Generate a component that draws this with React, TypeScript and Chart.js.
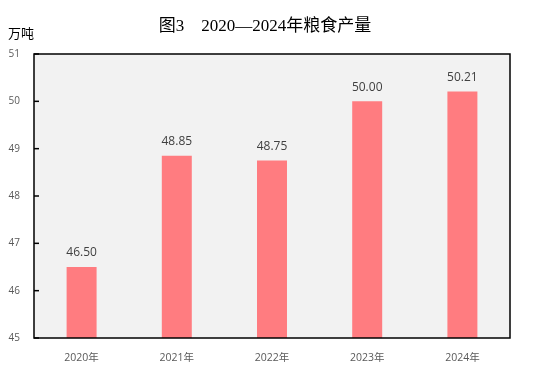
import React, { useEffect, useRef } from "react";
import { Chart, registerables } from "chart.js";

Chart.register(...registerables);

const TITLE = "图3　2020—2024年粮食产量";
const UNIT = "万吨";
const categories = ["2020年", "2021年", "2022年", "2023年", "2024年"];
const values = [46.5, 48.85, 48.75, 50.0, 50.21];
const yMin = 45;
const yMax = 51;

const decor = {
  id: "decor",
  beforeDraw(chart: any) {
    const { ctx, chartArea: a } = chart;
    ctx.save();
    ctx.fillStyle = "#f2f2f2";
    ctx.fillRect(a.left, a.top, a.right - a.left, a.bottom - a.top);
    ctx.restore();
  },
  afterDatasetsDraw(chart: any) {
    const { ctx, chartArea: a } = chart;
    ctx.save();
    // border
    ctx.strokeStyle = "#000";
    ctx.lineWidth = 1.5;
    ctx.strokeRect(a.left, a.top, a.right - a.left, a.bottom - a.top);
    // inward ticks on y axis
    const ys = chart.scales.y;
    ctx.lineWidth = 1.5;
    for (let v = yMin; v <= yMax; v++) {
      const py = ys.getPixelForValue(v);
      ctx.beginPath();
      ctx.moveTo(a.left, py);
      ctx.lineTo(a.left + 5, py);
      ctx.stroke();
    }
    // data labels
    const meta = chart.getDatasetMeta(0);
    ctx.fillStyle = "#404040";
    ctx.font = "12px 'Open Sans', sans-serif";
    ctx.textAlign = "center";
    ctx.textBaseline = "middle";
    meta.data.forEach((bar: any, i: number) => {
      ctx.fillText(values[i].toFixed(2), bar.x, bar.y - 14);
    });
    // title
    ctx.fillStyle = "#000";
    ctx.font = "17px 'Liberation Serif', 'Noto Sans CJK SC', serif";
    ctx.fillText(TITLE, 265, 27);
    ctx.font = "13px 'Liberation Serif', 'Noto Sans CJK SC', serif";
    ctx.textAlign = "left";
    ctx.fillText(UNIT, 8, 35);
    ctx.restore();
  },
};

export default function App() {
  const ref = useRef<HTMLCanvasElement>(null);
  useEffect(() => {
    if (!ref.current) return;
    const chart = new Chart(ref.current, {
      type: "bar",
      data: {
        labels: categories,
        datasets: [
          {
            data: values,
            backgroundColor: "#ff7c80",
            borderWidth: 0,
            barPercentage: 0.315,
            categoryPercentage: 1,
          },
        ],
      },
      options: {
        animation: false,
        responsive: false,
        devicePixelRatio: 1,
        layout: { padding: { left: 0, top: 54, right: 36, bottom: 0 } },
        plugins: { legend: { display: false }, tooltip: { enabled: false }, title: { display: false } },
        scales: {
          y: {
            min: yMin,
            max: yMax,
            ticks: { stepSize: 1, color: "#595959", font: { size: 10, family: "'Open Sans', sans-serif" }, padding: 6 },
            grid: { display: false },
            border: { display: false },
            afterFit(s: any) {
              s.width = 34;
            },
          },
          x: {
            ticks: { color: "#595959", font: { size: 10.5, family: "'Open Sans', 'Noto Sans CJK SC', sans-serif" }, padding: 6 },
            grid: { display: false },
            border: { display: false },
            afterFit(s: any) {
              s.height = 36;
            },
          },
        },
      },
      plugins: [decor],
    });
    return () => chart.destroy();
  }, []);
  return (
    <div style={{ position: "fixed", left: 0, top: 0, width: 546, height: 374, background: "#fff" }}>
      <canvas ref={ref} width={546} height={374} style={{ width: 546, height: 374 }} />
    </div>
  );
}
